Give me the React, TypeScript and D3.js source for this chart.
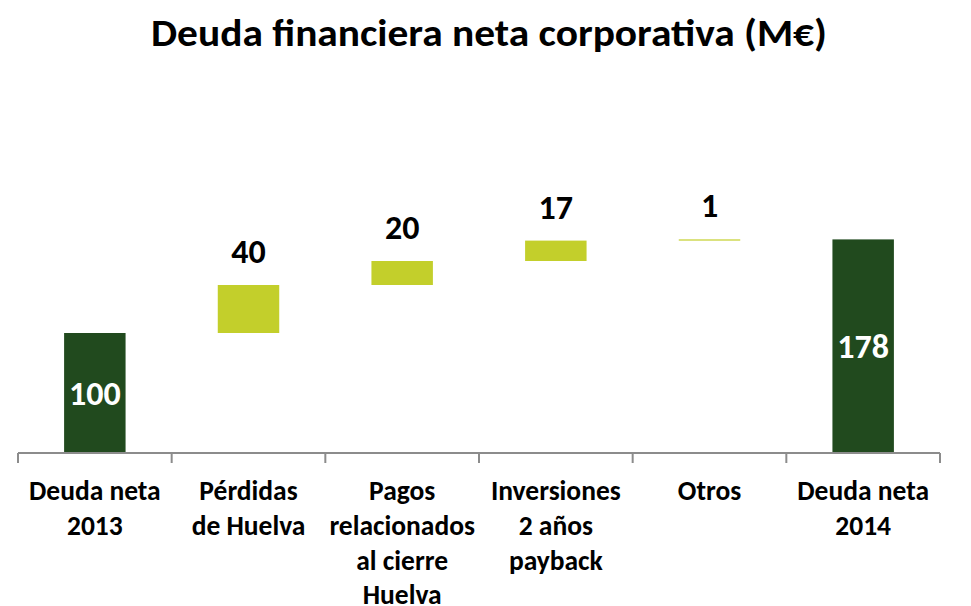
import React from 'react';
import * as d3 from 'd3';

// datos del gráfico cascada
const categories: string[][] = [
  ['Deuda neta', '2013'],
  ['Pérdidas', 'de Huelva'],
  ['Pagos', 'relacionados', 'al cierre', 'Huelva'],
  ['Inversiones', '2 años', 'payback'],
  ['Otros'],
  ['Deuda neta', '2014'],
];
const values = [100, 40, 20, 17, 1, 178];
const isTotal = [true, false, false, false, false, true];

const title = 'Deuda financiera neta corporativa (M€)';

const W = 971;
const H = 606;
const FONT = 'Carlito, Calibri, Lato, sans-serif';
const DARK = '#214a1e';
const LIGHT = '#c3cf2b';

const App = () => {
  const margin = { left: 18, right: 31, baseline: 453 };

  const x = d3.scaleBand<number>()
    .domain(d3.range(values.length))
    .range([margin.left, W - margin.right])
    .paddingInner(0.6)
    .paddingOuter(0.3);

  const y = d3.scaleLinear().domain([0, 100]).range([margin.baseline, 333]);

  // inicio y fin de cada barra
  let acc = 0;
  const bars = values.map((v, i) => {
    let start: number, end: number;
    if (isTotal[i]) {
      start = 0;
      end = v;
      acc = v;
    } else {
      start = acc;
      end = acc + v;
      acc = end;
    }
    return { i, v, start, end, total: isTotal[i] };
  });

  const step = x.step();
  const edges = d3.range(values.length + 1).map(i => (x(0)! - x.paddingOuter() * step) + i * step);

  return (
    <svg width={W} height={H} style={{ position: 'absolute', left: 0, top: 0 }} fontFamily={FONT}>
      <rect width={W} height={H} fill="white" />
      <text x={489} y={46} textAnchor="middle" fontSize={38} fontWeight="bold" fill="#000"
        textLength={676} lengthAdjust="spacingAndGlyphs">{title}</text>

      {bars.map(b => (
        <rect key={b.i}
          x={x(b.i)}
          y={y(b.end)}
          width={x.bandwidth()}
          height={Math.max(1.2, y(b.start) - y(b.end))}
          fill={b.total ? DARK : LIGHT} />
      ))}

      {bars.map(b => b.total ? (
        <text key={'l' + b.i}
          x={x(b.i)! + x.bandwidth() / 2}
          y={(y(b.start) + y(b.end)) / 2}
          dy="0.35em"
          textAnchor="middle" fontSize={34} fontWeight="bold" fill="white">{b.v}</text>
      ) : (
        <text key={'l' + b.i}
          x={x(b.i)! + x.bandwidth() / 2}
          y={y(b.end) - 22}
          textAnchor="middle" fontSize={34} fontWeight="bold" fill="#000">{b.v}</text>
      ))}

      <line x1={edges[0]} x2={edges[edges.length - 1]} y1={margin.baseline} y2={margin.baseline}
        stroke="#8c8c8c" strokeWidth={2} />
      {edges.map((e, i) => (
        <line key={'t' + i} x1={e} x2={e} y1={margin.baseline} y2={margin.baseline + 10}
          stroke="#8c8c8c" strokeWidth={2} />
      ))}

      {categories.map((lines, i) => (
        <text key={'c' + i} textAnchor="middle" fontSize={27.5} fontWeight="bold" fill="#000">
          {lines.map((ln, j) => (
            <tspan key={j} x={x(i)! + x.bandwidth() / 2} y={500 + j * 34.8}>{ln}</tspan>
          ))}
        </text>
      ))}
    </svg>
  );
};

export default App;
